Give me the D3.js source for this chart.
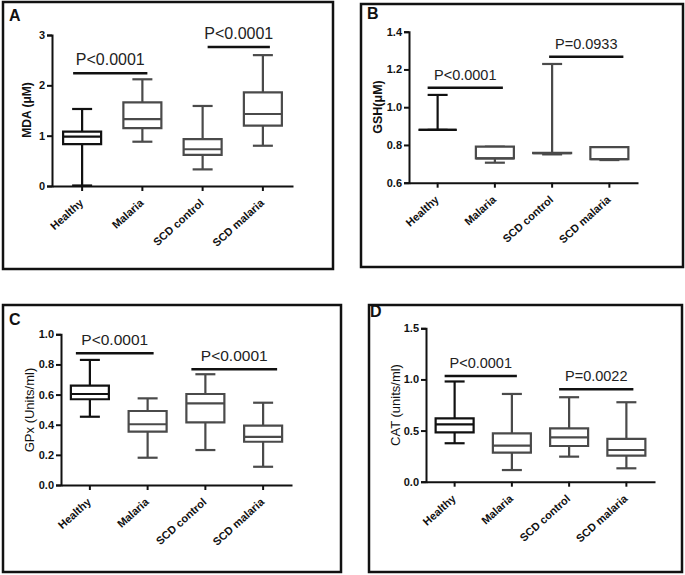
<!DOCTYPE html>
<html><head><meta charset="utf-8">
<script src="https://cdn.jsdelivr.net/npm/d3@7"></script>
<style>body{margin:0;background:#fff}svg{display:block}text{font-family:"Liberation Sans",Arial,sans-serif}</style>
</head><body>
<svg id="chart" width="685" height="575"></svg>
<script>
const categories = ["Healthy", "Malaria", "SCD control", "SCD malaria"];
// [min, Q1, median, Q3, max]
const mdaStats = [[0.01,0.83,0.98,1.08,1.53],[0.88,1.15,1.33,1.66,2.12],[0.33,0.62,0.73,0.93,1.59],[0.80,1.20,1.43,1.86,2.60]];
const gshStats = [[0.88,0.88,0.88,0.88,1.065],[0.706,0.729,0.729,0.791,0.791],[0.75,0.756,0.756,0.758,1.229],[0.72,0.725,0.725,0.788,0.788]];
const gpxStats = [[0.453,0.569,0.604,0.659,0.83],[0.181,0.354,0.403,0.491,0.575],[0.232,0.416,0.542,0.604,0.735],[0.121,0.287,0.32,0.394,0.546]];
const catStats = [[0.376,0.483,0.56,0.62,0.98],[0.114,0.284,0.352,0.473,0.858],[0.245,0.349,0.434,0.522,0.826],[0.131,0.254,0.31,0.418,0.777]];
// [fromCategory, toCategory, y value, label]
const mdaBrackets = [[0,1,2.24,"P<0.0001"],[2,3,2.76,"P<0.0001"]];
const gshBrackets = [[0,1,1.1035,"P<0.0001"],[2,3,1.267,"P=0.0933"]];
const gpxBrackets = [[0,1,0.874,"P<0.0001"],[2,3,0.768,"P<0.0001"]];
const catBrackets = [[0,1,1.034,"P<0.0001"],[2,3,0.904,"P=0.0022"]];
const mdaTicks = [0,1,2,3];
const gshTicks = [0.6,0.8,1.0,1.2,1.4];
const gpxTicks = [0,0.2,0.4,0.6,0.8,1.0];
const catTicks = [0,0.5,1.0,1.5];
const panelLetters = ["A","B","C","D"];
const axisTitles = ["MDA (\u03BCM)", "GSH(\u03BCM)", "GPx (Units/ml)", "CAT (units/ml)"];

const panels = [
  {stats: mdaStats, brackets: mdaBrackets, ticks: mdaTicks, fmt: d3.format("d"), domain:[0,3],
   frame:[3,2,333,269], plot:[52,293,35,186], label:[9,21], title:[27,110,12,"bold"], pfont:16,
   bOff:[[-9,5],[5,7]]},
  {stats: gshStats, brackets: gshBrackets, ticks: gshTicks, fmt: d3.format(".1f"), domain:[0.6,1.4],
   frame:[361,4,683,267], plot:[409,638,31.7,182.7], label:[367,19], title:[378,107,12.5,"bold"], pfont:14.5,
   bOff:[[-10,8],[-3,14]]},
  {stats: gpxStats, brackets: gpxBrackets, ticks: gpxTicks, fmt: d3.format(".1f"), domain:[0,1],
   frame:[3,305,341,572], plot:[61,292,334.3,485], label:[9,325], title:[29,410,13,"normal"], pfont:15.5,
   bOff:[[-14,6],[-14,14]]},
  {stats: catStats, brackets: catBrackets, ticks: catTicks, fmt: d3.format(".1f"), domain:[0,1.5],
   frame:[369,305,682,572], plot:[426,655,328.3,481.7], label:[370,317], title:[395,405,13,"normal"], pfont:14.5,
   bOff:[[-10,5],[-10,7]]}
];

const svg = d3.select("#chart");

panels.forEach((p, pi) => {
  const g = svg.append("g");
  const [fx0, fy0, fx1, fy1] = p.frame;
  g.append("rect").attr("x", fx0).attr("y", fy0).attr("width", fx1 - fx0).attr("height", fy1 - fy0)
    .attr("fill", "none").attr("stroke", "#111").attr("stroke-width", 2.5);
  g.append("text").attr("x", p.label[0]).attr("y", p.label[1]).text(panelLetters[pi])
    .attr("font-size", 16).attr("font-weight", "bold").attr("fill", "#111");

  const [px0, px1, pyTop, pyBot] = p.plot;
  const x = d3.scaleBand().domain(categories).range([px0, px1]).padding(0);
  const y = d3.scaleLinear().domain(p.domain).range([pyBot, pyTop]);
  const cx = c => x(c) + x.bandwidth() / 2;

  const ya = g.append("g").attr("transform", `translate(${px0},0)`)
    .call(d3.axisLeft(y).tickValues(p.ticks).tickFormat(p.fmt).tickSize(5).tickPadding(2));
  ya.select(".domain").attr("stroke", "#111").attr("stroke-width", 2);
  ya.selectAll(".tick line").attr("stroke", "#111").attr("stroke-width", 2);
  ya.selectAll(".tick text").attr("font-size", 11).attr("font-weight", "bold").attr("fill", "#111")
    .attr("font-family", '"Liberation Sans",Arial,sans-serif');

  const xa = g.append("g").attr("transform", `translate(0,${pyBot})`)
    .call(d3.axisBottom(x).tickSize(5).tickSizeOuter(0).tickFormat(""));
  xa.select(".domain").attr("stroke", "#111").attr("stroke-width", 2);
  xa.selectAll(".tick line").attr("stroke", "#111").attr("stroke-width", 2);
  g.selectAll(".xlab").data(categories).join("text").attr("class", "xlab")
    .attr("transform", d => `translate(${cx(d) + 2},${pyBot + 18}) rotate(-42)`)
    .attr("text-anchor", "end").attr("font-size", 11).attr("font-weight", "bold").attr("fill", "#111")
    .text(d => d);

  g.append("text").attr("transform", `translate(${p.title[0]},${p.title[1]}) rotate(-90)`)
    .attr("text-anchor", "middle").attr("dy", "0.35em")
    .attr("font-size", p.title[2]).attr("font-weight", p.title[3]).attr("fill", "#111")
    .text(axisTitles[pi]);

  const bw = 38, cw = 20;
  p.stats.forEach((s, i) => {
    const c = categories[i];
    const xc = cx(c);
    const col = i === 0 ? "#111" : "#4a4a4a";
    const [mn, q1, md, q3, mx] = s;
    const bg = g.append("g").attr("stroke", col).attr("stroke-width", 2.2).attr("fill", "none");
    bg.append("line").attr("x1", xc).attr("x2", xc).attr("y1", y(mx)).attr("y2", y(q3));
    bg.append("line").attr("x1", xc).attr("x2", xc).attr("y1", y(q1)).attr("y2", y(mn));
    bg.append("line").attr("x1", xc - cw/2).attr("x2", xc + cw/2).attr("y1", y(mx)).attr("y2", y(mx));
    bg.append("line").attr("x1", xc - cw/2).attr("x2", xc + cw/2).attr("y1", y(mn)).attr("y2", y(mn));
    bg.append("path").attr("fill", "#fff")
      .attr("d", `M${xc - bw/2},${y(q3)}H${xc + bw/2}V${y(q1)}H${xc - bw/2}Z`);
    bg.append("line").attr("x1", xc - bw/2).attr("x2", xc + bw/2).attr("y1", y(md)).attr("y2", y(md));
  });

  p.brackets.forEach((b, bi) => {
    const [a, z, v, lab] = b;
    const x1 = cx(categories[a]) + p.bOff[bi][0];
    const x2 = cx(categories[z]) + p.bOff[bi][1];
    g.append("line").attr("x1", x1).attr("x2", x2).attr("y1", y(v)).attr("y2", y(v))
      .attr("stroke", "#111").attr("stroke-width", 2.5);
    g.append("text").attr("x", (x1 + x2) / 2).attr("y", y(v) - 8).attr("text-anchor", "middle")
      .attr("font-size", p.pfont).attr("fill", "#222").text(lab);
  });
});
</script>
</body></html>
